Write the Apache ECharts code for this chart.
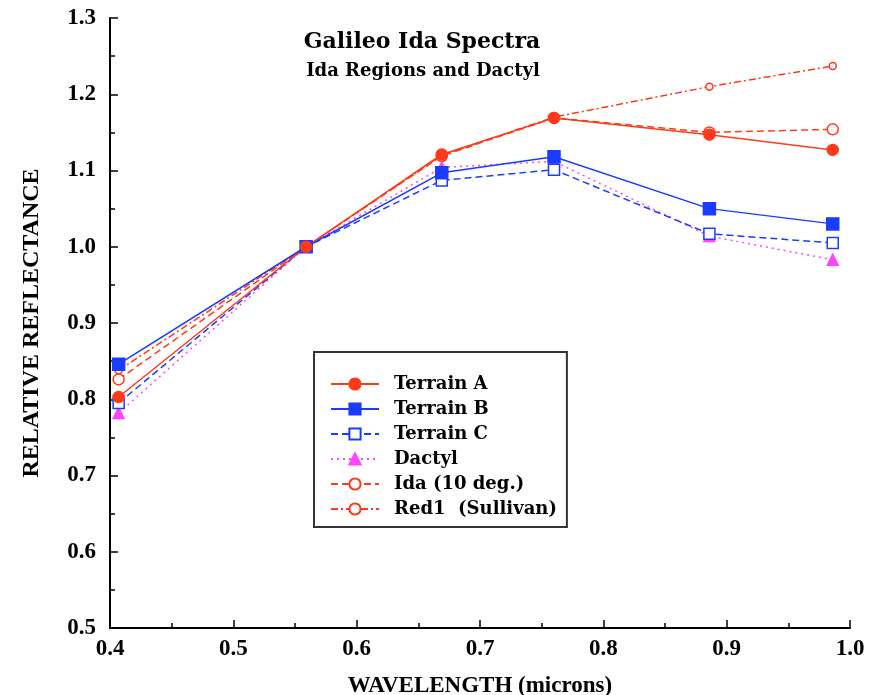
<!DOCTYPE html>
<html>
<head>
<meta charset="utf-8">
<script src="https://cdn.jsdelivr.net/npm/echarts@6/dist/echarts.min.js"></script>
<style>
  html, body { margin: 0; padding: 0; background: #fff; }
  #chart { width: 874px; height: 695px; }
</style>
</head>
<body>
<div id="chart"></div>
<script>
// wavelengths of the filters (microns)
const wavelengths = [0.407, 0.559, 0.669, 0.760, 0.886, 0.986];

// relative reflectance, normalised at 0.56
const terrainA = [0.803, 1.0, 1.121, 1.169, 1.147, 1.127];
const terrainB = [0.846, 1.0, 1.097, 1.118, 1.050, 1.030];
const terrainC = [0.795, 1.0, 1.087, 1.101, 1.017, 1.005];
const dactyl = [0.782, 1.0, 1.104, 1.112, 1.014, 0.983];
const ida10 = [0.826, 1.0, 1.119, 1.169, 1.150, 1.154];
const red1 = [0.838, 1.0, 1.120, 1.170, 1.210, 1.237];

const legendNames = ["Terrain A", "Terrain B", "Terrain C", "Dactyl", "Ida (10 deg.)", "Red1  (Sullivan)"];

const RED = "#ff3a1a";
const BLUE = "#1a3cff";
const MAGENTA = "#ff44ff";
const AXIS_FONT = "Liberation Serif";
const TEXT_FONT = "DejaVu Serif";

function pairs(ys) {
  return wavelengths.map((x, i) => [x, ys[i]]);
}

const chart = echarts.init(document.getElementById("chart"));

// 每条曲线的样式
function line(name, ys, color, type, symbol, size, filled) {
  return {
    name: name,
    type: "line",
    data: pairs(ys),
    symbol: symbol,
    symbolSize: size,
    showAllSymbol: true,
    lineStyle: { color: color, width: 1.5, type: type },
    itemStyle: {
      color: filled ? color : "#fff",
      borderColor: color,
      borderWidth: 1.5,
    },
    emphasis: { disabled: true },
    z: 3,
  };
}

const option = {
  animation: false,
  backgroundColor: "#fff",
  textStyle: { fontFamily: AXIS_FONT },
  title: [
    {
      text: "Galileo Ida Spectra",
      left: 417,
      top: 26,
      textAlign: "center",
      textStyle: { fontFamily: TEXT_FONT, fontWeight: "bold", fontSize: 22, color: "#000" },
    },
    {
      text: "Ida Regions and Dactyl",
      left: 418,
      top: 57,
      textAlign: "center",
      textStyle: { fontFamily: TEXT_FONT, fontWeight: "bold", fontSize: 18, color: "#000" },
    },
  ],
  legend: {
    orient: "vertical",
    left: 314,
    top: 352,
    padding: [22, 10, 8, 16],
    borderColor: "#333",
    borderWidth: 2,
    itemWidth: 48,
    itemHeight: 14,
    itemGap: 5,
    textStyle: {
      fontFamily: TEXT_FONT,
      fontWeight: "bold",
      fontSize: 18,
      lineHeight: 20,
      color: "#000",
      padding: [0, 0, 0, 10],
    },
    data: legendNames,
  },
  grid: { left: 110, right: 24, top: 18, bottom: 67, outerBoundsMode: "none" },
  xAxis: {
    type: "value",
    min: 0.4,
    max: 1.0,
    interval: 0.1,
    name: "WAVELENGTH (microns)",
    nameLocation: "middle",
    nameGap: 47,
    nameTextStyle: { fontFamily: AXIS_FONT, fontWeight: "bold", fontSize: 23, color: "#000" },
    axisLine: { lineStyle: { color: "#000", width: 2 } },
    axisTick: { inside: true, length: 8, lineStyle: { color: "#000", width: 1.5 } },
    minorTick: { show: true, splitNumber: 2, length: 5, lineStyle: { color: "#000", width: 1.5 } },
    axisLabel: {
      fontFamily: AXIS_FONT,
      fontWeight: "bold",
      fontSize: 23,
      color: "#000",
      margin: 10,
      formatter: v => v.toFixed(1),
    },
    splitLine: { show: false },
  },
  yAxis: {
    type: "value",
    min: 0.5,
    max: 1.3,
    interval: 0.1,
    name: "RELATIVE REFLECTANCE",
    nameLocation: "middle",
    nameGap: 66,
    nameTextStyle: { fontFamily: AXIS_FONT, fontWeight: "bold", fontSize: 24, color: "#000" },
    axisLine: { show: true, lineStyle: { color: "#000", width: 2 } },
    axisTick: { show: true, inside: true, length: 8, lineStyle: { color: "#000", width: 1.5 } },
    minorTick: { show: true, splitNumber: 2, length: 5, lineStyle: { color: "#000", width: 1.5 } },
    axisLabel: {
      fontFamily: AXIS_FONT,
      fontWeight: "bold",
      fontSize: 23,
      color: "#000",
      margin: 14,
      formatter: v => v.toFixed(1),
    },
    splitLine: { show: false },
  },
  series: [
    line("Red1  (Sullivan)", red1, RED, [7, 3, 2, 3], "circle", 7, false),
    line("Ida (10 deg.)", ida10, RED, [7, 4], "circle", 11, false),
    line("Dactyl", dactyl, MAGENTA, [2, 4], "triangle", 11, true),
    line("Terrain C", terrainC, BLUE, [7, 4], "rect", 11, false),
    line("Terrain B", terrainB, BLUE, "solid", "rect", 12, true),
    line("Terrain A", terrainA, RED, "solid", "circle", 11, true),
  ],
};

chart.setOption(option);
</script>
</body>
</html>
